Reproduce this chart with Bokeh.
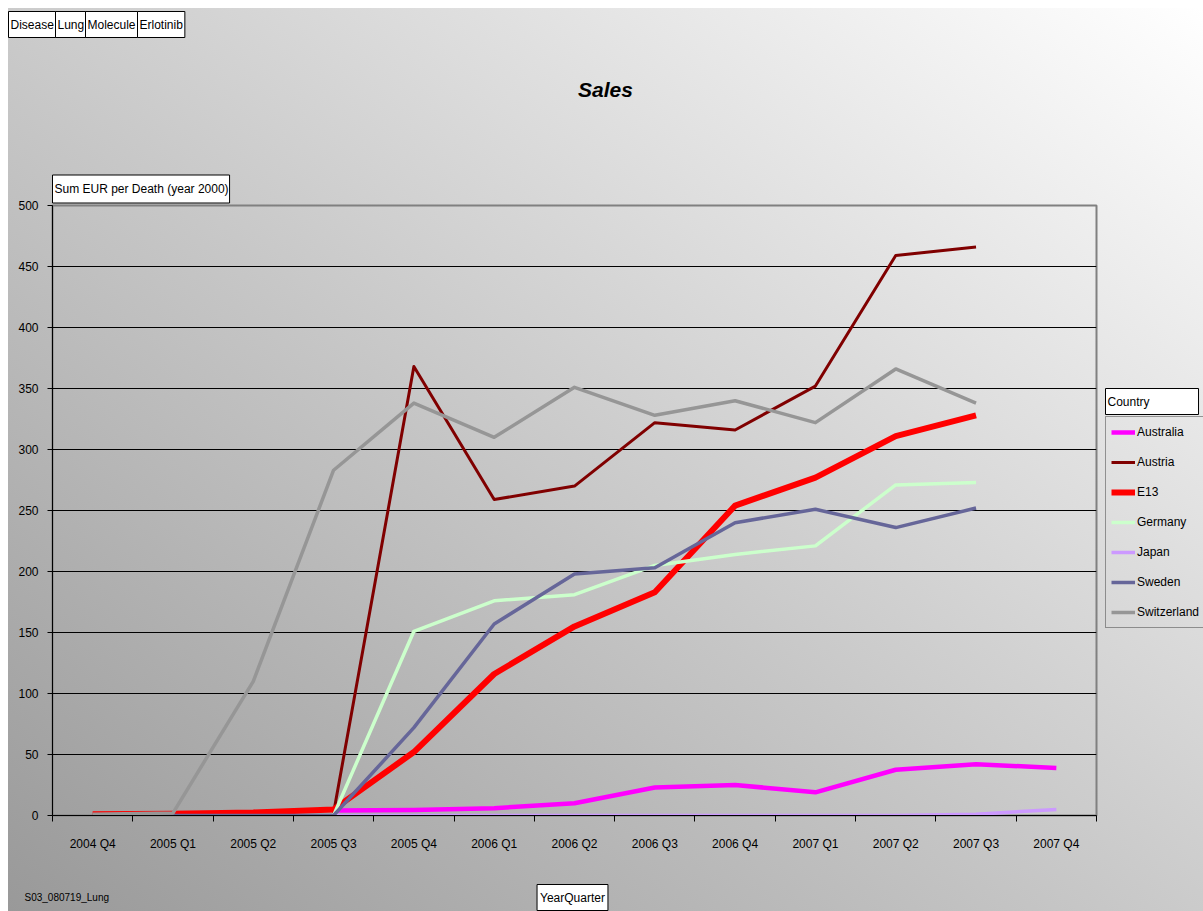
from bokeh.plotting import figure
from bokeh.layouts import column, row
from bokeh.models import Range1d, FixedTicker, Label, Legend, LegendItem
from bokeh.embed import file_html
from bokeh.resources import INLINE

nan = float("nan")

quarters = ["2004 Q4", "2005 Q1", "2005 Q2", "2005 Q3", "2005 Q4", "2006 Q1", "2006 Q2",
            "2006 Q3", "2006 Q4", "2007 Q1", "2007 Q2", "2007 Q3", "2007 Q4"]

australia   = [nan, nan, nan, 4, 4.5, 6, 10, 23, 25, 19, 37.5, 42, 39]
austria     = [nan, nan, nan, 2, 368, 259, 270, 322, 316, 352, 459, 466, nan]
e13         = [1, 1.5, 2.5, 5, 52, 116, 155, 183, 254, 277, 311, 328, nan]
germany     = [nan, nan, nan, 0, 151, 176, 181, 205, 214, 221, 271, 273, nan]
japan       = [nan, nan, nan, 0, 0, 0, 0, 0, 0, 0, 0, 1, 5]
sweden      = [0, 0, 0, 0, 72, 157, 198, 203, 240, 251, 236, 252, nan]
switzerland = [1, 2, 110, 283, 338, 310, 351, 328, 340, 322, 366, 338, nan]

series_names = ["Australia", "Austria", "E13", "Germany", "Japan", "Sweden", "Switzerland"]
series_values = [australia, austria, e13, germany, japan, sweden, switzerland]
series_colors = ["#FF00FF", "#800000", "#FF0000", "#CCFFCC", "#CC99FF", "#666699", "#969696"]
series_widths = [4.5, 3, 6, 3.5, 3.5, 3.5, 3.5]

y_ticks = list(range(0, 501, 50))
filters = ["Disease", "Lung", "Molecule", "Erlotinib"]

FONT = "Liberation Sans"


def blank_fig(w, h):
    f = figure(width=w, height=h, output_backend="svg", toolbar_location=None,
               x_axis_type=None, y_axis_type=None, x_range=Range1d(0, 1), y_range=Range1d(0, 1),
               min_border=0, min_border_left=0, min_border_right=0, min_border_top=0, min_border_bottom=0)
    f.outline_line_color = None
    f.border_fill_alpha = 0
    f.background_fill_alpha = 0
    f.grid.visible = False
    return f


def text_label(text, x, y, size="12px", align="left", padding=2, boxed=True, **kw):
    lab = Label(x=x, y=y, x_units="screen", y_units="screen", text=text,
                text_font=FONT, text_font_size=size, text_align=align,
                text_baseline="middle", text_color="black", padding=padding, **kw)
    if boxed:
        lab.background_fill_color = "white"
        lab.border_line_color = "black"
        lab.border_line_width = 1
    return lab


# ---------------- top strip (page y 0..170)
top = blank_fig(1203, 170)
box_pad = dict(left=2, right=2, top=6, bottom=6)
for name, left in zip(filters, [8, 55, 85, 137]):
    top.add_layout(text_label(name, left, 170 - 24, padding=box_pad))
top.add_layout(text_label("Sales", 605, 170 - 89, size="21px", align="center", boxed=False,
                          text_font_style="bold italic"))

# ---------------- main chart (page y 170..870, x 0..1100)
p = figure(width=1100, height=700, output_backend="svg", toolbar_location=None,
           x_range=Range1d(0, len(quarters)), y_range=Range1d(0, 500),
           min_border_left=52, min_border_right=4, min_border_top=35, min_border_bottom=55)
p.border_fill_alpha = 0
p.background_fill_alpha = 0
p.outline_line_color = "#808080"
p.outline_line_width = 2

p.title.text = "Sum EUR per Death (year 2000)"
p.title.align = "left"
p.title.offset = 0
p.title.standoff = 5
p.title.text_font = FONT
p.title.text_font_size = "12px"
p.title.text_font_style = "normal"
p.title.text_color = "black"
p.title.background_fill_color = "white"
p.title.border_line_color = "black"
p.title.padding = dict(left=2, right=1, top=7, bottom=7)

centers = [i + 0.5 for i in range(len(quarters))]

xa = p.xaxis[0]
xa.ticker = FixedTicker(ticks=centers, minor_ticks=list(range(len(quarters) + 1)))
xa.major_label_overrides = {c: q for c, q in zip(centers, quarters)}
xa.major_tick_in = 0
xa.major_tick_out = 0
xa.minor_tick_in = 0
xa.minor_tick_out = 6
xa.minor_tick_line_color = "black"
xa.axis_line_color = "black"
xa.major_label_standoff = 15
xa.major_label_text_font = FONT
xa.major_label_text_font_size = "12px"
xa.major_label_text_color = "black"

ya = p.yaxis[0]
ya.ticker = FixedTicker(ticks=y_ticks)
ya.major_tick_in = 0
ya.major_tick_out = 5
ya.minor_tick_out = 0
ya.minor_tick_in = 0
ya.major_tick_line_color = "black"
ya.axis_line_color = "black"
ya.major_label_standoff = 9
ya.major_label_text_font = FONT
ya.major_label_text_font_size = "12px"
ya.major_label_text_color = "black"

p.xgrid.visible = False
p.ygrid.ticker = FixedTicker(ticks=y_ticks[1:-1])
p.ygrid.grid_line_color = "black"
p.ygrid.grid_line_width = 1

for name, vals, col, w in zip(series_names, series_values, series_colors, series_widths):
    p.line(centers, vals, line_color=col, line_width=w, line_join="round")

# ---------------- legend panel (page x 1100..1203); its frame is aligned with the chart frame (page y 205..815)
lg = blank_fig(103, 700)
items = []
for name, col, w in zip(series_names, series_colors, series_widths):
    r = lg.line([nan], [nan], line_color=col, line_width=w)
    items.append(LegendItem(label=name, renderers=[r]))
legend = Legend(items=items, location=(5, 815 - 628), margin=0, padding=5, spacing=10,
                glyph_width=24, glyph_height=20, label_height=20, label_standoff=2,
                label_text_font=FONT, label_text_font_size="12px", label_text_color="black",
                background_fill_alpha=0, border_line_color="#404040", border_line_width=1)
lg.add_layout(legend, "center")
lg.add_layout(text_label("Country", 5, 815 - 401, padding=dict(left=2, right=49, top=6, bottom=6)))

# ---------------- footer (page y 870..911)
foot = blank_fig(1203, 41)
foot.add_layout(text_label("S03_080719_Lung", 22, 911 - 897, size="10px", boxed=False))
foot.add_layout(text_label("YearQuarter", 572, 911 - 897, align="center",
                           padding=dict(left=3, right=3, top=6, bottom=6)))

layout = column(top, row(p, lg, spacing=0), foot, spacing=0)
layout.styles = {
    "background": "linear-gradient(to top right, #999999 0%, #c6c6c6 45%, #ffffff 100%) 8px 8px / 1195px 903px no-repeat, #ffffff"
}

open("out.html", "w").write(file_html(layout, INLINE))
